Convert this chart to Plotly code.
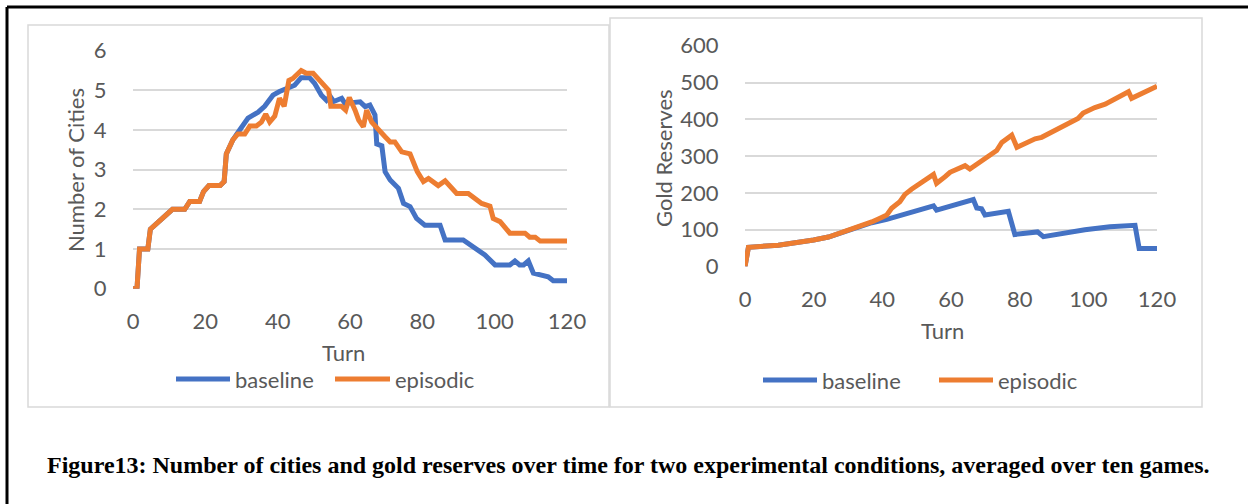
import plotly.graph_objects as go

W, H = 1248, 504

# ---------------- data: Number of Cities ----------------
cities_base_turn = [0, 1.1, 1.8, 4.1, 4.8, 10.9, 14.3, 15.7, 18.4, 19.5, 21, 24.1, 25.2, 25.8, 27.6, 29,
                    29.5, 31.8, 33.2, 34.6, 36.4, 38.7, 40.5, 42.5, 44.7, 46.5, 48.8, 50.2, 52.1, 53.5,
                    54.5, 55.5, 57.7, 58.6, 62.8, 64.2, 65.5, 66.9, 67.4, 68.8, 69.7, 71.1, 73.4, 74.8,
                    76.6, 78.4, 80.7, 84.9, 86.3, 91.3, 93.2, 95, 97.3, 100.1, 104.2, 105.6, 106.9, 108,
                    109.3, 110.7, 112.5, 114.8, 116.2, 120]
cities_base_val = [0, 0, 1, 1, 1.5, 2.0, 2.0, 2.2, 2.2, 2.45, 2.6, 2.6, 2.7, 3.4, 3.75, 3.9,
                   4.0, 4.3, 4.38, 4.45, 4.6, 4.88, 4.97, 5.05, 5.13, 5.32, 5.32, 5.18, 4.88, 4.75,
                   4.85, 4.72, 4.8, 4.67, 4.71, 4.59, 4.63, 4.38, 3.65, 3.6, 2.95, 2.74, 2.53, 2.15,
                   2.07, 1.77, 1.6, 1.6, 1.23, 1.23, 1.1, 0.97, 0.85, 0.6, 0.6, 0.7, 0.6, 0.6,
                   0.7, 0.39, 0.35, 0.3, 0.2, 0.2]

cities_epi_turn = [0, 1.1, 1.8, 4.1, 4.8, 10.9, 14.3, 15.7, 18.4, 19.5, 21, 24.1, 25.2, 25.8, 27.6, 29,
                   30.9, 32.3, 34.1, 35.5, 36.7, 37.8, 39.2, 40.5, 41.8, 43.1, 44.2, 46.5, 47.9, 49.8,
                   52.1, 54.1, 54.7, 57.6, 58.8, 59.8, 61.4, 62.4, 63.7, 64.6, 66, 67.8, 69.7, 71.1,
                   72.4, 74.3, 76.6, 78.6, 80.3, 81.7, 83.2, 84.4, 86.3, 88.1, 89.5, 92.7, 94.1, 96.4,
                   98.7, 99.6, 101.5, 104.2, 108.4, 109.7, 111.2, 112.6, 120]
cities_epi_val = [0, 0, 1, 1, 1.5, 2.0, 2.0, 2.2, 2.2, 2.45, 2.6, 2.6, 2.7, 3.4, 3.75, 3.9,
                  3.9, 4.1, 4.1, 4.2, 4.4, 4.2, 4.35, 4.8, 4.6, 5.25, 5.3, 5.5, 5.43, 5.43,
                  5.2, 5.0, 4.6, 4.6, 4.5, 4.82, 4.5, 4.25, 4.08, 4.5, 4.2, 4.0, 3.83, 3.7,
                  3.7, 3.45, 3.4, 2.95, 2.7, 2.78, 2.7, 2.6, 2.72, 2.53, 2.4, 2.4, 2.3, 2.15,
                  2.08, 1.77, 1.69, 1.4, 1.4, 1.3, 1.3, 1.2, 1.2]

# ---------------- data: Gold Reserves ----------------
gold_base_turn = [0, 1, 9.7, 15, 20, 24.3, 31, 34, 36.9, 41.3, 48.5, 54.9, 55.8, 58.3, 66.5, 67.5,
                  68.9, 69.9, 76.7, 78.6, 85.2, 86.9, 99, 106.3, 113.6, 114.8, 120]
gold_base_val = [0, 52, 58, 64, 72, 80, 100, 110, 119, 128, 146, 165, 153, 160, 182, 159,
                 157, 140, 150, 87, 94, 81, 100, 108, 112, 49, 49]

gold_epi_turn = [0, 1, 9.7, 15, 20, 24.3, 31, 34, 36.9, 39, 41.3, 42.7, 45.1, 46.6, 48.5, 54.9,
                 55.8, 58.3, 59.7, 64.1, 65.5, 73.3, 74.8, 77.7, 79.2, 84.5, 86.4, 97, 98.5, 101.9,
                 104.9, 111.7, 112.6, 120]
gold_epi_val = [0, 52, 58, 64, 72, 80, 100, 110, 121, 130, 140, 158, 176, 196, 210, 250,
                226, 244, 256, 274, 265, 315, 337, 357, 324, 347, 351, 402, 417, 432,
                441, 475, 457, 490]

series_names = ["baseline", "episodic"]
colors = ["#4472C4", "#ED7D31"]
x_ticks = [0, 20, 40, 60, 80, 100, 120]
cities_ticks = [0, 1, 2, 3, 4, 5, 6]
gold_ticks = [0, 100, 200, 300, 400, 500, 600]
caption = ("Figure13: Number of cities and gold reserves over time for two experimental "
           "conditions, averaged over ten games.")

# ---------------- helpers (pixel -> paper) ----------------
def fx(px):
    return px / W

def fy(py):
    return 1 - py / H

FONT = "Lato"
TXT = "#595959"
GRID = "#D9D9D9"
FS = 22
LW = 5

fig = go.Figure()

fig.add_trace(go.Scatter(x=cities_base_turn, y=cities_base_val, mode="lines", name=series_names[0],
                         line=dict(color=colors[0], width=LW), xaxis="x", yaxis="y", showlegend=False))
fig.add_trace(go.Scatter(x=cities_epi_turn, y=cities_epi_val, mode="lines", name=series_names[1],
                         line=dict(color=colors[1], width=LW), xaxis="x", yaxis="y", showlegend=False))
fig.add_trace(go.Scatter(x=gold_base_turn, y=gold_base_val, mode="lines", name=series_names[0],
                         line=dict(color=colors[0], width=LW), xaxis="x2", yaxis="y2", showlegend=False))
fig.add_trace(go.Scatter(x=gold_epi_turn, y=gold_epi_val, mode="lines", name=series_names[1],
                         line=dict(color=colors[1], width=LW), xaxis="x2", yaxis="y2", showlegend=False))

xcommon = dict(showgrid=False, zeroline=False, showline=False, tickmode="array", tickvals=x_ticks,
               ticks="outside", ticklen=13, tickcolor="rgba(0,0,0,0)", automargin=False,
               tickfont=dict(family=FONT, size=FS, color=TXT), fixedrange=True)
ycommon = dict(showgrid=True, gridcolor=GRID, gridwidth=1.5, zeroline=False, showline=False,
               ticks="outside", ticklen=21, tickcolor="rgba(0,0,0,0)", automargin=False,
               tickfont=dict(family=FONT, size=FS, color=TXT), fixedrange=True)

fig.update_layout(
    template="none",
    width=W, height=H, margin=dict(l=0, r=0, t=0, b=0, pad=0, autoexpand=False),
    paper_bgcolor="white", plot_bgcolor="white", showlegend=False,
    xaxis=dict(domain=[fx(133), fx(567)], range=[0, 120], anchor="y", **xcommon),
    yaxis=dict(domain=[fy(288.7), fy(50.7)], range=[0, 6], anchor="x", tickvals=cities_ticks, **ycommon),
    xaxis2=dict(domain=[fx(745), fx(1157)], range=[0, 120], anchor="y2", **xcommon),
    yaxis2=dict(domain=[fy(266.5), fy(45.7)], range=[0, 600], anchor="x2", tickvals=gold_ticks, **ycommon),
)

shapes = []
# outer black frame (top and left)
shapes.append(dict(type="line", xref="paper", yref="paper", x0=fx(7), x1=fx(1248), y0=fy(7), y1=fy(7),
                   line=dict(color="black", width=3)))
shapes.append(dict(type="line", xref="paper", yref="paper", x0=fx(7), x1=fx(7), y0=fy(7), y1=fy(504),
                   line=dict(color="black", width=3)))
# chart boxes
shapes.append(dict(type="rect", xref="paper", yref="paper", x0=fx(28), x1=fx(609), y0=fy(407), y1=fy(25),
                   line=dict(color=GRID, width=1.5)))
shapes.append(dict(type="rect", xref="paper", yref="paper", x0=fx(610), x1=fx(1202), y0=fy(407), y1=fy(18),
                   line=dict(color=GRID, width=1.5)))

annotations = []
# legend swatches + labels
legend_specs = [
    # (line x0, line x1, text x, y)
    [(176, 230, 233, 379), (335, 390, 393, 379)],
    [(763, 817, 820, 380), (939, 993, 996, 380)],
]
for panel in legend_specs:
    for i, (lx0, lx1, tx, ly) in enumerate(panel):
        shapes.append(dict(type="line", xref="paper", yref="paper", x0=fx(lx0), x1=fx(lx1),
                           y0=fy(ly), y1=fy(ly), line=dict(color=colors[i], width=5)))
        annotations.append(dict(text=series_names[i], xref="paper", yref="paper", x=fx(tx), y=fy(ly),
                                xanchor="left", yanchor="middle", showarrow=False,
                                font=dict(family=FONT, size=FS, color=TXT)))

# axis titles
annotations.append(dict(text="Turn", xref="paper", yref="paper", x=fx(343), y=fy(352), xanchor="center",
                        yanchor="middle", showarrow=False, font=dict(family=FONT, size=FS, color=TXT)))
annotations.append(dict(text="Turn", xref="paper", yref="paper", x=fx(942), y=fy(330), xanchor="center",
                        yanchor="middle", showarrow=False, font=dict(family=FONT, size=FS, color=TXT)))
annotations.append(dict(text="Number of Cities", xref="paper", yref="paper", x=fx(75), y=fy(170),
                        xanchor="center", yanchor="middle", textangle=-90, showarrow=False,
                        font=dict(family=FONT, size=FS, color=TXT)))
annotations.append(dict(text="Gold Reserves", xref="paper", yref="paper", x=fx(663), y=fy(158),
                        xanchor="center", yanchor="middle", textangle=-90, showarrow=False,
                        font=dict(family=FONT, size=FS, color=TXT)))
# caption
annotations.append(dict(text="<b>" + caption + "</b>", xref="paper", yref="paper", x=fx(628), y=fy(465),
                        xanchor="center", yanchor="middle", showarrow=False,
                        font=dict(family="Liberation Serif", size=24, color="black")))

fig.update_layout(shapes=shapes, annotations=annotations)

fig.write_html("out.html", config={"displayModeBar": False})
